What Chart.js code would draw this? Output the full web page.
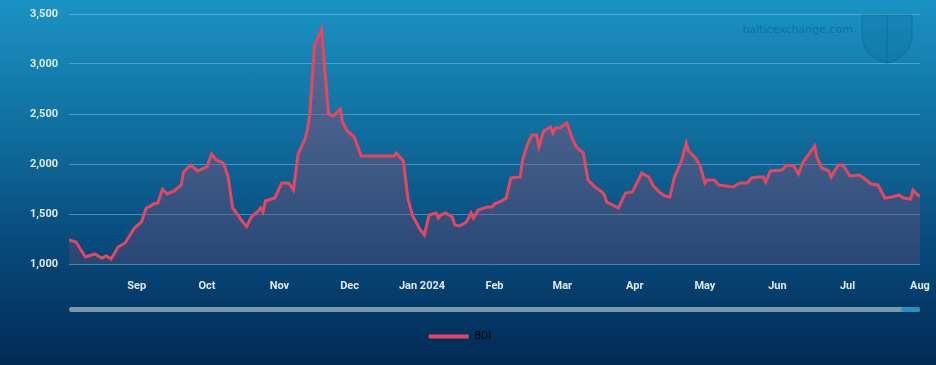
<!DOCTYPE html>
<html>
<head>
<meta charset="utf-8">
<script src="https://cdn.jsdelivr.net/npm/chart.js@4"></script>
<style>
	html, body {
		margin: 0;
		padding: 0;
	}
	body {
		width: 936px;
		height: 365px;
		background: linear-gradient(180deg, #1a93c4 0%, #106f9f 35%, #07497a 68%, #012a55 100%);
	}
	.chart-box {
		position: relative;
		width: 936px;
		height: 365px;
	}
</style>
</head>
<body>
<div class="chart-box">
	<canvas id="bdiChart"></canvas>
</div>
<script>
// days counted from 2023-08-01
const startDate = '2023-08-01'
const days = [
	2, 5, 9, 13, 16, 18, 20, 23, 26, 30,
	33, 35, 37, 38, 40, 42, 44, 47, 50, 51,
	54, 57, 61, 63, 65, 68, 70, 72, 74, 76,
	78, 80, 83, 84, 85, 86, 90, 93, 96, 98,
	100, 103, 104, 105, 107, 110, 113, 115, 118, 119,
	121, 124, 127, 141, 142, 145, 147, 149, 150, 152,
	154, 156, 159, 160, 161, 163, 166, 167, 169, 172,
	174, 175, 177, 181, 183, 184, 187, 189, 191, 195,
	196, 198, 200, 202, 203, 205, 208, 209, 210, 212,
	215, 217, 219, 222, 224, 227, 230, 231, 232, 237,
	240, 243, 247, 250, 252, 255, 257, 259, 261, 264,
	266, 267, 270, 272, 274, 275, 278, 280, 286, 289,
	292, 294, 297, 299, 300, 302, 307, 309, 312, 314,
	316, 321, 322, 324, 327, 328, 331, 333, 336, 340,
	342, 345, 348, 351, 354, 357, 359, 362, 363, 365,
	366
]
const bdi = [
	1240, 1220, 1070, 1100, 1060, 1080, 1050, 1170, 1210, 1360,
	1420, 1560, 1580, 1600, 1610, 1750, 1700, 1730, 1790, 1920,
	1990, 1930, 1970, 2100, 2040, 2010, 1880, 1560, 1500, 1430,
	1375, 1470, 1530, 1560, 1520, 1630, 1660, 1810, 1810, 1740,
	2100, 2250, 2350, 2500, 3180, 3350, 2500, 2480, 2550, 2420,
	2330, 2270, 2080, 2080, 2110, 2030, 1650, 1480, 1440, 1350,
	1290, 1490, 1510, 1460, 1490, 1510, 1470, 1390, 1380, 1420,
	1510, 1460, 1540, 1570, 1570, 1600, 1630, 1660, 1860, 1870,
	2040, 2190, 2290, 2290, 2170, 2330, 2370, 2310, 2360, 2360,
	2410, 2270, 2170, 2110, 1840, 1770, 1720, 1690, 1620, 1560,
	1710, 1720, 1910, 1870, 1780, 1710, 1680, 1670, 1870, 2030,
	2210, 2130, 2060, 1980, 1810, 1840, 1840, 1790, 1770, 1810,
	1810, 1860, 1870, 1870, 1820, 1930, 1940, 1990, 1980, 1900,
	2020, 2180, 2060, 1960, 1930, 1870, 1990, 1990, 1880, 1890,
	1860, 1800, 1790, 1660, 1670, 1690, 1660, 1650, 1740, 1690,
	1680
]
const tickDates = ['2023-09-01', '2023-10-01', '2023-11-01', '2023-12-01', '2024-01-01', '2024-02-01',
	'2024-03-01', '2024-04-01', '2024-05-01', '2024-06-01', '2024-07-01', '2024-08-01']
const tickLabels = ['Sep', 'Oct', 'Nov', 'Dec', 'Jan 2024', 'Feb', 'Mar', 'Apr', 'May', 'Jun', 'Jul', 'Aug']
const yTicks = [1000, 1500, 2000, 2500, 3000, 3500]

const lineColor = '#e8465f'
const labelColor = '#dfeaf3'

function dayOf(str) {
	return Math.round((Date.parse(str) - Date.parse(startDate)) / 86400000)
}
const tickDays = tickDates.map(dayOf)

let points = []
days.forEach((d, i) => {
	points.push({ x: d, y: bdi[i] })
})

const decorations = {
	id: 'decorations',
	beforeDatasetsDraw(chart) {
		const ctx = chart.ctx
		const area = chart.chartArea
		ctx.save()
		// watermark text
		ctx.font = '11px "DejaVu Sans", sans-serif'
		ctx.fillStyle = 'rgba(8, 70, 110, 0.4)'
		ctx.textAlign = 'right'
		ctx.textBaseline = 'middle'
		ctx.fillText('balticexchange.com', area.right - 67, 30)
		// shield
		const sx = area.right - 58, sy = 15
		ctx.beginPath()
		ctx.moveTo(sx, sy)
		ctx.lineTo(sx + 50, sy)
		ctx.lineTo(sx + 50, sy + 22)
		ctx.quadraticCurveTo(sx + 48, sy + 42, sx + 25, sy + 48)
		ctx.quadraticCurveTo(sx + 2, sy + 42, sx, sy + 22)
		ctx.closePath()
		ctx.fillStyle = 'rgba(10, 80, 125, 0.15)'
		ctx.fill()
		ctx.strokeStyle = 'rgba(10, 80, 125, 0.25)'
		ctx.lineWidth = 1.5
		ctx.stroke()
		ctx.beginPath()
		ctx.moveTo(sx + 25, sy)
		ctx.lineTo(sx + 25, sy + 48)
		ctx.stroke()
		ctx.restore()
	},
	afterDraw(chart) {
		const ctx = chart.ctx
		const area = chart.chartArea
		ctx.save()
		ctx.fillStyle = '#7b97ae'
		ctx.beginPath()
		ctx.roundRect(area.left, 307, area.right - area.left, 5, 2.5)
		ctx.fill()
		ctx.fillStyle = '#2d8cc0'
		ctx.beginPath()
		ctx.roundRect(area.right - 19, 307, 19, 5, 2.5)
		ctx.fill()
		ctx.restore()
	}
}

const ctx = document.getElementById('bdiChart').getContext('2d')
const bdiChart = new Chart(ctx, {
	type: 'line',
	data: {
		datasets: [
			{
				label: 'BDI',
				data: points,
				borderColor: lineColor,
				borderWidth: 3,
				pointRadius: 0,
				tension: 0,
				fill: 'start',
				backgroundColor: (c) => {
					const area = c.chart.chartArea
					if (!area) return 'rgba(140, 75, 110, 0.45)'
					const g = c.chart.ctx.createLinearGradient(0, area.top, 0, area.bottom)
					g.addColorStop(0, 'rgba(150, 80, 115, 0.6)')
					g.addColorStop(1, 'rgba(120, 75, 115, 0.3)')
					return g
				},
			}
		],
	},
	options: {
		responsive: true,
		maintainAspectRatio: false,
		animation: false,
		layout: {
			padding: { left: 0, right: 16, top: 14, bottom: 13 }
		},
		scales: {
			x: {
				type: 'linear',
				min: days[0],
				max: tickDays[tickDays.length - 1],
				afterBuildTicks: (scale) => {
					scale.ticks = tickDays.map(v => ({ value: v }))
				},
				afterFit: (scale) => {
					scale.height = 57
					scale.paddingRight = 0
				},
				grid: { display: false },
				border: { display: false },
				ticks: {
					autoSkip: false,
					maxRotation: 0,
					padding: 8,
					color: labelColor,
					font: { family: 'Roboto', size: 11, weight: 'bold' },
					callback: (v) => tickLabels[tickDays.indexOf(v)],
				}
			},
			y: {
				min: 1000,
				max: 3500,
				afterBuildTicks: (scale) => {
					scale.ticks = yTicks.map(v => ({ value: v }))
				},
				afterFit: (scale) => {
					scale.width = 69
					scale.paddingTop = 0
					scale.paddingBottom = 0
				},
				grid: {
					color: 'rgba(130, 200, 235, 0.5)',
					lineWidth: 1,
					drawTicks: false,
				},
				border: { display: false },
				ticks: {
					padding: 11,
					color: labelColor,
					font: { family: 'Roboto', size: 11, weight: 'bold' },
					callback: (v) => v.toLocaleString('en-US'),
				}
			}
		},
		plugins: {
			legend: {
				position: 'bottom',
				labels: {
					boxWidth: 40,
					boxHeight: 4,
					padding: 10,
					color: '#13294b',
					font: { family: 'Roboto', size: 11 },
					generateLabels: (chart) => [{
						text: 'BDI',
						fillStyle: lineColor,
						strokeStyle: lineColor,
						lineWidth: 0,
						datasetIndex: 0,
					}]
				}
			},
			tooltip: { enabled: false }
		}
	},
	plugins: [decorations]
});
</script>
</body>
</html>
